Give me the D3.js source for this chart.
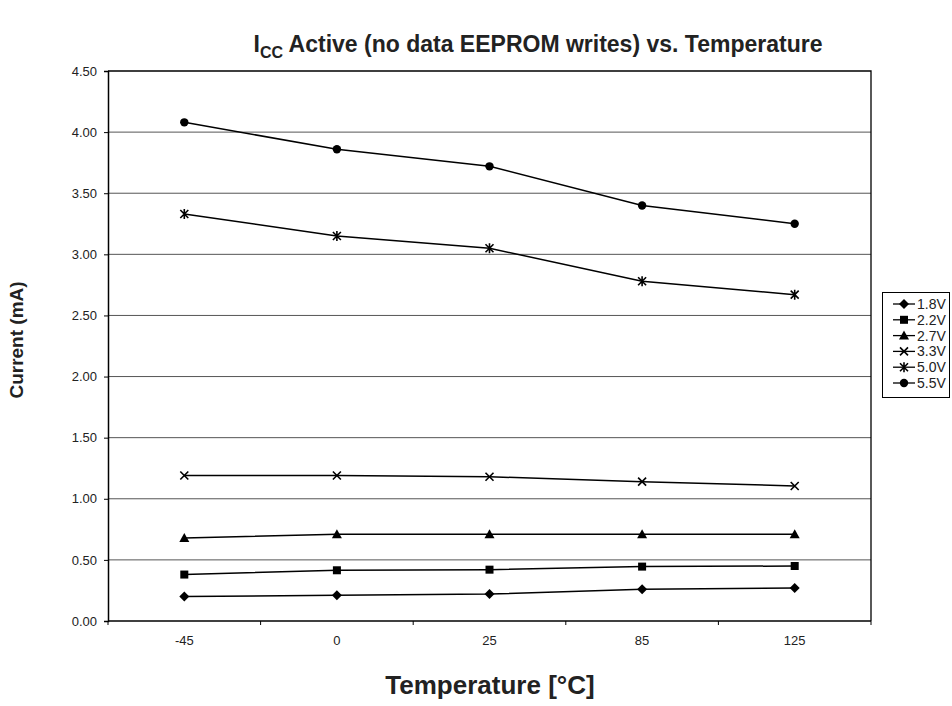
<!DOCTYPE html>
<html>
<head>
<meta charset="utf-8">
<script src="https://cdn.jsdelivr.net/npm/d3@7"></script>
<style>
  body { margin: 0; background: #fff; }
  svg { font-family: Arial, "Liberation Sans", sans-serif; }
</style>
</head>
<body>
<div class="content"></div>
<script>
// Data
var temperatures = ["-45", "0", "25", "85", "125"];
var seriesNames = ["1.8V", "2.2V", "2.7V", "3.3V", "5.0V", "5.5V"];
var v18 = [0.20, 0.21, 0.22, 0.26, 0.27];
var v22 = [0.38, 0.415, 0.42, 0.445, 0.45];
var v27 = [0.68, 0.71, 0.71, 0.71, 0.71];
var v33 = [1.19, 1.19, 1.18, 1.14, 1.105];
var v50 = [3.33, 3.15, 3.05, 2.78, 2.67];
var v55 = [4.08, 3.86, 3.72, 3.40, 3.25];
var yTicks = [0, 0.5, 1, 1.5, 2, 2.5, 3, 3.5, 4, 4.5];
var markerTypes = ["diamond", "square", "triangle", "x", "star", "circle"];

var seriesValues = [v18, v22, v27, v33, v50, v55];

var width = 952, height = 706;
var plot = {left: 108, right: 871, top: 71, bottom: 621};

var svg = d3.select(".content").append("svg")
    .attr("width", width)
    .attr("height", height);

// scales
var x = d3.scaleBand()
  .domain(temperatures)
  .range([plot.left, plot.right]);

var y = d3.scaleLinear()
  .domain([0, 4.5])
  .range([plot.bottom, plot.top]);

// gridlines
svg.append("g")
  .selectAll("line")
  .data(yTicks.slice(1, -1))
  .enter()
  .append("line")
    .attr("x1", plot.left)
    .attr("x2", plot.right)
    .attr("y1", function(d) { return y(d) })
    .attr("y2", function(d) { return y(d) })
    .style("stroke", "#555")
    .style("stroke-width", 1);

// frame top and right
svg.append("path")
  .attr("d", "M" + plot.left + "," + y(4.5) + "H" + plot.right + "V" + y(0))
  .style("fill", "none")
  .style("stroke", "#000")
  .style("stroke-width", 1.3);

// Y axis
var yAxis = svg.append("g")
  .attr("transform", "translate(" + plot.left + ",0)")
  .call(d3.axisLeft(y).tickValues(yTicks).tickSize(4).tickPadding(7)
    .tickFormat(d3.format(".2f")));
yAxis.select(".domain").style("stroke-width", 1.5);
yAxis.selectAll("text").style("font-size", "13px").style("fill", "#222")
  .style("font-family", "Arial, 'Liberation Sans', sans-serif");

// X axis - ticks at band boundaries
var xAxis = svg.append("g")
  .attr("transform", "translate(0," + plot.bottom + ")");
xAxis.append("line")
  .attr("x1", plot.left).attr("x2", plot.right)
  .style("stroke", "#000").style("stroke-width", 1.5);
var bounds = temperatures.map(function(t) { return x(t) }).concat([x(temperatures[temperatures.length - 1]) + x.bandwidth()]);
xAxis.selectAll(".tk")
  .data(bounds)
  .enter()
  .append("line")
    .attr("x1", function(d) { return d })
    .attr("x2", function(d) { return d })
    .attr("y1", 0).attr("y2", 4)
    .style("stroke", "#000");
xAxis.selectAll(".lbl")
  .data(temperatures)
  .enter()
  .append("text")
    .attr("x", function(d) { return x(d) + x.bandwidth() / 2 })
    .attr("y", 24)
    .attr("text-anchor", "middle")
    .style("font-size", "13px")
    .style("fill", "#222")
    .text(function(d) { return d });

// markers
function drawMarker(g, type, cx, cy) {
  if (type == "diamond") {
    g.append("path").attr("d", "M" + cx + "," + (cy - 5) + "L" + (cx + 5) + "," + cy + "L" + cx + "," + (cy + 5) + "L" + (cx - 5) + "," + cy + "Z")
      .style("fill", "#000");
  } else if (type == "square") {
    g.append("rect").attr("x", cx - 4).attr("y", cy - 4).attr("width", 8).attr("height", 8).style("fill", "#000");
  } else if (type == "triangle") {
    g.append("path").attr("d", "M" + cx + "," + (cy - 5) + "L" + (cx + 5) + "," + (cy + 4) + "L" + (cx - 5) + "," + (cy + 4) + "Z")
      .style("fill", "#000");
  } else if (type == "x") {
    g.append("path").attr("d", "M" + (cx - 4) + "," + (cy - 4) + "L" + (cx + 4) + "," + (cy + 4) + "M" + (cx + 4) + "," + (cy - 4) + "L" + (cx - 4) + "," + (cy + 4))
      .style("stroke", "#000").style("stroke-width", 1.6);
  } else if (type == "star") {
    g.append("path").attr("d", "M" + (cx - 4) + "," + (cy - 4) + "L" + (cx + 4) + "," + (cy + 4) + "M" + (cx + 4) + "," + (cy - 4) + "L" + (cx - 4) + "," + (cy + 4) + "M" + cx + "," + (cy - 5) + "L" + cx + "," + (cy + 5))
      .style("stroke", "#000").style("stroke-width", 1.6);
  } else {
    g.append("circle").attr("cx", cx).attr("cy", cy).attr("r", 4.2).style("fill", "#000");
  }
}

var line = d3.line()
  .x(function(d, i) { return x(temperatures[i]) + x.bandwidth() / 2 })
  .y(function(d) { return y(d) });

seriesValues.forEach(function(vals, s) {
  var g = svg.append("g").attr("class", "series");
  g.append("path")
    .attr("d", line(vals))
    .style("fill", "none")
    .style("stroke", "#000")
    .style("stroke-width", 1.5);
  vals.forEach(function(v, i) {
    drawMarker(g, markerTypes[s], x(temperatures[i]) + x.bandwidth() / 2, y(v));
  });
});

// legend
var legend = svg.append("g");
legend.append("rect")
  .attr("x", 882.5).attr("y", 292.5)
  .attr("width", 67).attr("height", 105)
  .style("fill", "#fff").style("stroke", "#000");
seriesNames.forEach(function(name, i) {
  var ly = 304 + i * 15.8;
  legend.append("line")
    .attr("x1", 893).attr("x2", 915).attr("y1", ly).attr("y2", ly)
    .style("stroke", "#000").style("stroke-width", 1.3);
  drawMarker(legend, markerTypes[i], 904, ly);
  legend.append("text")
    .attr("x", 917).attr("y", ly + 5)
    .style("font-size", "14px")
    .style("fill", "#222")
    .text(name);
});

// title
var title = svg.append("text")
  .attr("x", 538).attr("y", 52)
  .attr("text-anchor", "middle")
  .style("font-size", "23px")
  .style("font-weight", "bold")
  .style("fill", "#222");
title.append("tspan").text("I");
title.append("tspan").attr("dy", 6).style("font-size", "16px").text("CC");
title.append("tspan").attr("dy", -6).text(" Active (no data EEPROM writes) vs. Temperature");

// axis titles
svg.append("text")
  .attr("transform", "translate(23,340) rotate(-90)")
  .attr("text-anchor", "middle")
  .style("font-size", "19px")
  .style("font-weight", "bold")
  .style("fill", "#222")
  .text("Current (mA)");

svg.append("text")
  .attr("x", 490).attr("y", 694)
  .attr("text-anchor", "middle")
  .style("font-size", "26px")
  .style("font-weight", "bold")
  .style("fill", "#222")
  .text("Temperature [°C]");
</script>
</body>
</html>
